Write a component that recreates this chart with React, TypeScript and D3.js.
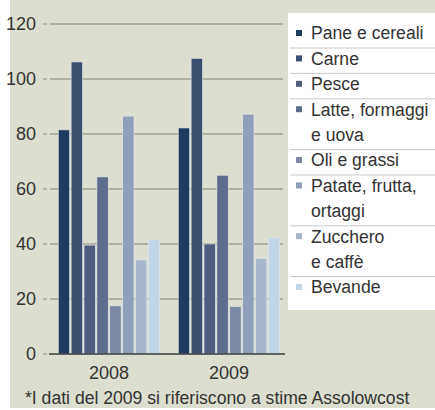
import { useMemo } from "react";
import * as d3 from "d3";

const WIDTH = 435;
const HEIGHT = 410;
const FONT = "'Liberation Sans', Arial, sans-serif";

const YEARS = ["2008", "2009"];
const CATEGORIES = [
  "Pane e cereali",
  "Carne",
  "Pesce",
  "Latte, formaggi e uova",
  "Oli e grassi",
  "Patate, frutta, ortaggi",
  "Zucchero e caffè",
  "Bevande",
];
const LEGEND_LINES = [
  ["Pane e cereali"],
  ["Carne"],
  ["Pesce"],
  ["Latte, formaggi", "e uova"],
  ["Oli e grassi"],
  ["Patate, frutta,", "ortaggi"],
  ["Zucchero", "e caffè"],
  ["Bevande"],
];
const VALUES_2008 = [81.5, 106.2, 39.6, 64.4, 17.5, 86.5, 34.2, 41.5];
const VALUES_2009 = [82.2, 107.5, 40, 65, 17.3, 87.2, 34.7, 42.2];
const Y_TICKS = [0, 20, 40, 60, 80, 100, 120];
const COLORS = [
  "#1e3a5e",
  "#3a4e70",
  "#4f5c7e",
  "#5f6d8d",
  "#7b88a2",
  "#8f9eb9",
  "#a8b6cc",
  "#c2d5e6",
];
const FOOTNOTE = "*I dati del 2009 si riferiscono a stime Assolowcost";

const PLOT_LEFT = 49;
const PLOT_RIGHT = 289;
const BASELINE = 354;
const TEXT = "#333";

function App() {
  const series = useMemo(
    () => [
      { year: YEARS[0], values: VALUES_2008 },
      { year: YEARS[1], values: VALUES_2009 },
    ],
    []
  );

  const x0 = d3
    .scaleBand<string>()
    .domain(YEARS)
    .range([PLOT_LEFT, PLOT_RIGHT])
    .paddingInner(0.15)
    .paddingOuter(0.075);
  const x1 = d3
    .scaleBand<string>()
    .domain(CATEGORIES)
    .range([0, x0.bandwidth()])
    .paddingInner(0.12)
    .paddingOuter(0.02);
  const y = d3.scaleLinear().domain([0, 120]).range([BASELINE, 24]);

  const legendTop = 13;
  const lineH = 25.4;
  let lineIdx = 0;
  const legendItems = LEGEND_LINES.map((lines, i) => {
    const start = lineIdx;
    lineIdx += lines.length;
    return { lines, start, end: lineIdx, color: COLORS[i] };
  });

  return (
    <svg
      width={WIDTH}
      height={HEIGHT}
      style={{ position: "absolute", left: 0, top: 0 }}
      fontFamily={FONT}
    >
      <rect x={0} y={0} width={WIDTH} height={HEIGHT} fill="#fff" />
      <rect x={10} y={0} width={WIDTH - 10} height={408} fill="#dcdecf" />

      {/* grid */}
      {Y_TICKS.map((t) => (
        <g key={t}>
          {t > 0 && (
            <line
              x1={PLOT_LEFT + 1}
              x2={283}
              y1={y(t)}
              y2={y(t)}
              stroke="#9fa190"
              strokeWidth={1.3}
            />
          )}
          <line x1={43} x2={47} y1={y(t)} y2={y(t)} stroke="#8c8e80" strokeWidth={1} />
          <text
            x={36}
            y={y(t)}
            dy="0.36em"
            textAnchor="end"
            fontSize={18}
            fill={TEXT}
          >
            {t}
          </text>
        </g>
      ))}

      {/* bars */}
      {series.map((s) => (
        <g key={s.year} transform={`translate(${x0(s.year)},0)`}>
          {s.values.map((v, i) => (
            <rect
              key={i}
              x={x1(CATEGORIES[i])}
              y={y(v)}
              width={x1.bandwidth()}
              height={BASELINE - y(v)}
              fill={COLORS[i]}
              stroke="#e4e8ec"
              strokeWidth={0.6}
            />
          ))}
          <text
            x={x0.bandwidth() / 2}
            y={379}
            textAnchor="middle"
            fontSize={18}
            fill={TEXT}
          >
            {s.year}
          </text>
        </g>
      ))}
      <line x1={PLOT_LEFT} x2={285} y1={BASELINE} y2={BASELINE} stroke="#3a3a3a" strokeWidth={1.3} />

      <text x={25} y={404} fontSize={17.6} fill={TEXT}>
        {FOOTNOTE}
      </text>

      {/* legend */}
      <rect x={288} y={legendTop} width={WIDTH - 288} height={297} fill="#fff" />
      {legendItems.map((it, i) => (
        <g key={i}>
          <rect
            x={296}
            y={legendTop + 20 + it.start * lineH - 3}
            width={6}
            height={6}
            fill={it.color}
          />
          {it.lines.map((ln, j) => (
            <text
              key={j}
              x={311}
              y={legendTop + 20 + (it.start + j) * lineH}
              dy="0.36em"
              fontSize={17.6}
              fill={TEXT}
            >
              {ln}
            </text>
          ))}
          {i < legendItems.length - 1 && (
            <line
              x1={290}
              x2={WIDTH}
              y1={legendTop + 35 + (it.end - 1) * lineH}
              y2={legendTop + 35 + (it.end - 1) * lineH}
              stroke="#c8c8c8"
              strokeWidth={1}
            />
          )}
        </g>
      ))}
    </svg>
  );
}

export default App;
